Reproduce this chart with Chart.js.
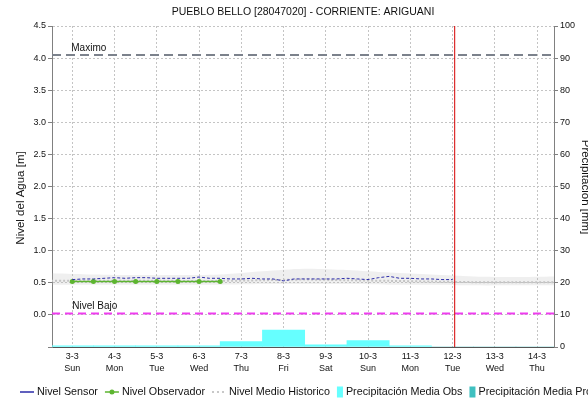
<!DOCTYPE html>
<html>
<head>
<meta charset="UTF-8">
<title>Pueblo Bello - Ariguani</title>
<style>
  html, body { margin: 0; padding: 0; background: #fff; }
  #grafica-box { position: relative; width: 588px; height: 402px; }
</style>
</head>
<body>
<div id="grafica-box"><canvas id="grafica"></canvas></div>

<script src="https://cdn.jsdelivr.net/npm/chart.js@4.4.1/dist/chart.umd.min.js"></script>

<script>
  var titulo = 'PUEBLO BELLO [28047020] - CORRIENTE: ARIGUANI';
  var fuente = '"Liberation Sans", Arial, sans-serif';

  // eje de tiempo (dia del mes)
  var dias = [3, 4, 5, 6, 7, 8, 9, 10, 11, 12, 13, 14];
  var etiquetasDia = ['3-3', '4-3', '5-3', '6-3', '7-3', '8-3', '9-3', '10-3', '11-3', '12-3', '13-3', '14-3'];
  var diasSemana = ['Sun', 'Mon', 'Tue', 'Wed', 'Thu', 'Fri', 'Sat', 'Sun', 'Mon', 'Tue', 'Wed', 'Thu'];
  var inicioEje = 2.52;
  var finEje = 14.4;
  var fechaActual = 12.05;

  // umbrales [m]
  var nivelMaximo = 4.05;
  var nivelBajo = 0.02;

  // nivel sensor cada 6 horas [m]
  var sensorTiempo = [3, 3.25, 3.5, 3.75, 4, 4.25, 4.5, 4.75, 5, 5.25, 5.5, 5.75, 6, 6.25, 6.5, 6.75,
                      7, 7.25, 7.5, 7.75, 8, 8.25, 8.5, 8.75, 9, 9.25, 9.5, 9.75, 10, 10.25, 10.5, 10.75,
                      11, 11.25, 11.5, 11.75, 12];
  var sensorNivel = [0.55, 0.56, 0.56, 0.57, 0.58, 0.57, 0.58, 0.58, 0.57, 0.57, 0.57, 0.57, 0.59, 0.57, 0.57, 0.56,
                     0.56, 0.57, 0.56, 0.56, 0.53, 0.56, 0.56, 0.56, 0.56, 0.56, 0.57, 0.56, 0.55, 0.58, 0.60, 0.57,
                     0.57, 0.56, 0.56, 0.55, 0.55];

  // lecturas del observador [m]
  var obsTiempo = [3, 3.5, 4, 4.5, 5, 5.5, 6, 6.5];
  var obsNivel = [0.52, 0.52, 0.52, 0.52, 0.52, 0.52, 0.52, 0.52];

  // nivel medio historico y rango [m]
  var histTiempo = [2.5, 3.5, 4.5, 5.5, 6.5, 7.5, 8.5, 9.5, 10.5, 11.5, 12.5, 13.5, 14.5];
  var histMedio = [0.53, 0.53, 0.53, 0.53, 0.53, 0.54, 0.55, 0.54, 0.53, 0.52, 0.51, 0.51, 0.51];
  var histMin = [0.47, 0.47, 0.47, 0.47, 0.47, 0.48, 0.48, 0.48, 0.47, 0.47, 0.46, 0.46, 0.46];
  var histMax = [0.65, 0.63, 0.62, 0.62, 0.63, 0.68, 0.72, 0.70, 0.66, 0.63, 0.60, 0.59, 0.60];

  // precipitacion diaria [mm]
  var precipDias = [3, 4, 5, 6, 7, 8, 9, 10, 11];
  var precipObs = [0.4, 0.4, 0.4, 0.4, 1.65, 5.3, 0.7, 2.0, 0.4];
  var precipProDias = [12, 13, 14];
  var precipPro = [0, 0, 0];

  var pares = function(xs, ys) {
    return xs.map(function(x, i) { return {x: x, y: ys[i]}; });
  };

  var extras = {
    id: 'extras',
    afterDatasetsDraw: function(chart) {
      var ctx = chart.ctx;
      var a = chart.chartArea;
      var sx = chart.scales.x, sy = chart.scales.y;

      var linea = function(valor, color, dash, texto, dx) {
        var py = sy.getPixelForValue(valor);
        ctx.save();
        ctx.strokeStyle = color;
        ctx.lineWidth = 2;
        ctx.setLineDash(dash);
        ctx.beginPath();
        ctx.moveTo(a.left, py);
        ctx.lineTo(a.right, py);
        ctx.stroke();
        ctx.setLineDash([]);
        ctx.fillStyle = '#111';
        ctx.font = '10px ' + fuente;
        ctx.textBaseline = 'bottom';
        ctx.fillText(texto, sx.getPixelForValue(dias[0]) + dx, py - 2);
        ctx.restore();
      };
      linea(nivelMaximo, '#7c828c', [9, 5], 'Maximo', -1);
      linea(nivelBajo, '#ee3cee', [8, 5], 'Nivel Bajo', 0);

      var px = sx.getPixelForValue(fechaActual);
      ctx.save();
      ctx.strokeStyle = '#d40000';
      ctx.lineWidth = 1;
      ctx.beginPath();
      ctx.moveTo(px, a.top);
      ctx.lineTo(px, a.bottom);
      ctx.stroke();
      ctx.restore();
    },
    afterDraw: function(chart) {
      var ctx = chart.ctx;
      var a = chart.chartArea;
      ctx.save();
      ctx.fillStyle = '#111';
      ctx.textBaseline = 'middle';

      ctx.font = '10.5px ' + fuente;
      ctx.textAlign = 'center';
      ctx.fillText(titulo, (a.left + a.right) / 2, 12);

      // titulos de los ejes
      ctx.save();
      ctx.translate(21, 198);
      ctx.rotate(-Math.PI / 2);
      ctx.font = '11.5px ' + fuente;
      ctx.fillText('Nivel del Agua [m]', 0, 0);
      ctx.restore();

      ctx.save();
      ctx.translate(585, 187);
      ctx.rotate(Math.PI / 2);
      ctx.font = '11.5px ' + fuente;
      ctx.fillText('Precipitacion [mm]', 0, 0);
      ctx.restore();

      // leyenda en una sola fila
      ctx.textAlign = 'left';
      ctx.font = '10.75px ' + fuente;
      var x = 20, y = 392;
      chart.data.datasets.forEach(function(ds) {
        if (!ds.leyenda) return;
        var w = ds.leyenda === 'caja' ? 6 : 14;
        ctx.save();
        if (ds.leyenda === 'caja') {
          ctx.fillStyle = ds.backgroundColor;
          ctx.fillRect(x, y - 5.5, w, 11);
        } else {
          ctx.strokeStyle = ds.leyenda === 'puntos' ? '#c8c8c8' : ds.borderColor;
          ctx.lineWidth = ds.leyenda === 'puntos' ? 2 : 1.5;
          ctx.setLineDash(ds.leyenda === 'puntos' ? [2, 3] : []);
          ctx.beginPath();
          ctx.moveTo(x, y);
          ctx.lineTo(x + w, y);
          ctx.stroke();
          if (ds.leyenda === 'marca') {
            ctx.fillStyle = ds.borderColor;
            ctx.beginPath();
            ctx.arc(x + w / 2, y, 2.5, 0, Math.PI * 2);
            ctx.fill();
          }
        }
        ctx.restore();
        x += w + 3;
        ctx.fillText(ds.label, x, y);
        x += ctx.measureText(ds.label).width + 7;
      });
      ctx.restore();
    }
  };

  var ctx = document.getElementById('grafica');

  var chart = new Chart(ctx, {
    data: {
      datasets: [
        {
          type: 'line', label: 'Nivel Sensor', leyenda: 'linea', order: 1,
          data: pares(sensorTiempo, sensorNivel), yAxisID: 'y',
          borderColor: '#2b2ba8', borderWidth: 1, borderDash: [3, 2],
          pointRadius: 0, tension: 0, fill: false
        },
        {
          type: 'line', label: 'Nivel Observador', leyenda: 'marca', order: 2,
          data: pares(obsTiempo, obsNivel), yAxisID: 'y',
          borderColor: '#5db530', borderWidth: 1.5,
          pointRadius: 2.5, pointBackgroundColor: '#5db530', pointBorderWidth: 0,
          tension: 0, fill: false
        },
        {
          type: 'line', label: 'Nivel Medio Historico', leyenda: 'puntos', order: 5,
          data: pares(histTiempo, histMedio), yAxisID: 'y',
          borderColor: '#c4c4c4', borderWidth: 2, borderDash: [2, 2],
          pointRadius: 0, tension: 0.3, fill: false
        },
        {
          type: 'line', label: 'min historico', order: 7,
          data: pares(histTiempo, histMin), yAxisID: 'y',
          borderWidth: 0, pointRadius: 0, tension: 0.3, fill: false
        },
        {
          type: 'line', label: 'max historico', order: 6,
          data: pares(histTiempo, histMax), yAxisID: 'y',
          borderWidth: 0, pointRadius: 0, tension: 0.3,
          fill: '-1', backgroundColor: 'rgba(180, 180, 180, 0.22)'
        },
        {
          type: 'bar', label: 'Precipitación Media Obs', leyenda: 'caja', order: 9,
          data: pares(precipDias, precipObs), yAxisID: 'y2',
          backgroundColor: '#66ffff', borderWidth: 0,
          barPercentage: 1, categoryPercentage: 1, grouped: false, clip: 0
        },
        {
          type: 'bar', label: 'Precipitación Media Pro', leyenda: 'caja', order: 10,
          data: pares(precipProDias, precipPro), yAxisID: 'y2',
          backgroundColor: '#3fc0c0', borderWidth: 0,
          barPercentage: 1, categoryPercentage: 1, grouped: false, clip: 0
        }
      ]
    },
    options: {
      responsive: true,
      maintainAspectRatio: false,
      animation: false,
      devicePixelRatio: 1,
      layout: { padding: { top: 26, left: 0, right: 0, bottom: 0 } },
      plugins: {
        legend: { display: false },
        title: { display: false },
        tooltip: { enabled: false }
      },
      scales: {
        x: {
          type: 'linear', min: inicioEje, max: finEje, offset: false,
          afterBuildTicks: function(s) {
            s.ticks = dias.map(function(d) { return {value: d}; });
          },
          afterFit: function(s) { s.height = 55; },
          ticks: {
            autoSkip: false, maxRotation: 0, padding: 4, color: '#111',
            font: { size: 9, family: fuente, lineHeight: 1.3 },
            callback: function(v) {
              var i = dias.indexOf(v);
              return i < 0 ? '' : [etiquetasDia[i], diasSemana[i]];
            }
          },
          grid: { color: '#c4c4c4', drawTicks: false, offset: false },
          border: { color: '#555', dash: [2, 2] }
        },
        y: {
          position: 'left', min: -0.5, max: 4.5,
          afterFit: function(s) { s.width = 52; },
          ticks: {
            stepSize: 0.5, padding: 2, color: '#111',
            font: { size: 9, family: fuente },
            callback: function(v) { return v < 0 ? '' : v.toFixed(1); }
          },
          grid: { color: '#c4c4c4', tickColor: '#808080', tickLength: 4, tickBorderDash: [] },
          border: { color: '#808080', dash: [2, 2] }
        },
        y2: {
          position: 'right', min: 0, max: 100,
          afterFit: function(s) { s.width = 34; },
          ticks: {
            stepSize: 10, padding: 2, color: '#111',
            font: { size: 9, family: fuente }
          },
          grid: { drawOnChartArea: false, tickColor: '#808080', tickLength: 4 },
          border: { color: '#808080' }
        }
      }
    },
    plugins: [extras]
  });
</script>
</body>
</html>
